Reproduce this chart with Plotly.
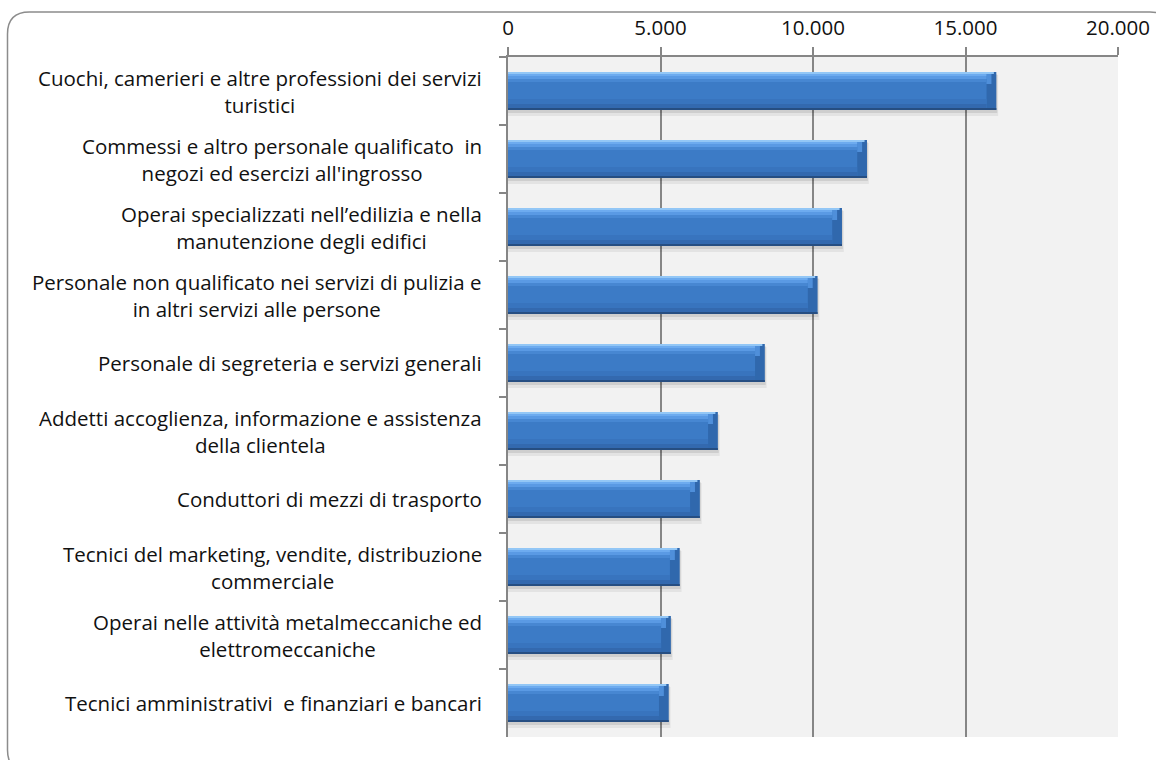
import plotly.graph_objects as go

# Professioni più richieste (numero di assunzioni previste)
categorie = [
    "Cuochi, camerieri e altre professioni dei servizi<br>turistici",
    "Commessi e altro personale qualificato  in<br>negozi ed esercizi all'ingrosso",
    "Operai specializzati nell\u2019edilizia e nella<br>manutenzione degli edifici",
    "Personale non qualificato nei servizi di pulizia e<br>in altri servizi alle persone",
    "Personale di segreteria e servizi generali",
    "Addetti accoglienza, informazione e assistenza<br>della clientela",
    "Conduttori di mezzi di trasporto",
    "Tecnici del marketing, vendite, distribuzione<br>commerciale",
    "Operai nelle attività metalmeccaniche ed<br>elettromeccaniche",
    "Tecnici amministrativi  e finanziari e bancari",
]
valori = [16010, 11770, 10950, 10150, 8420, 6880, 6290, 5630, 5340, 5270]
tick_valori = [0, 5000, 10000, 15000, 20000]

FONT = "Open Sans"
FSIZE = 20.5
W, H = 1156, 760
L, R, T, B = 508, 38, 57, 23
CAT_PX = (H - T - B) / len(categorie)  # pixels per category


def u(px):
    """pixels -> category units"""
    return px / CAT_PX


BEVEL = 320  # length of the bevelled right end, in data units

fig = go.Figure()


def layer(xs, top_px, height_px, color):
    fig.add_trace(go.Bar(
        x=xs, y=categorie, orientation="h",
        width=u(height_px), offset=u(top_px),
        marker=dict(color=color, line=dict(width=0)),
        hoverinfo="skip", showlegend=False,
    ))


# soft drop shadow
layer([v + 60 for v in valori], -16, 41, "rgba(0,0,0,0.06)")
layer([v + 30 for v in valori], -17, 39, "rgba(0,0,0,0.09)")
# bevelled bar body, shaded from a light top edge to a dark bottom edge
inner = [v - BEVEL for v in valori]
layer(valori, -19, 38, "#3068AD")
layer([v - BEVEL * 0.5 for v in valori], -19, 12, "#4F8FDA")
layer(inner, -18, 35, "#3C7BC6")
layer(inner, -18, 3, "#6DABEF")
layer(inner, -15, 3, "#5A9AE4")
layer(inner, -12, 3, "#4787D2")
layer(inner, 8, 5, "#3874BE")
layer(inner, 13, 4, "#3369AF")
layer([v - BEVEL * 0.25 for v in valori], -19, 1.5, "#93C7F6")
layer(valori, 17, 2, "#264E82")

# category labels, right-aligned to the axis with centred lines
annotations = [
    dict(x=0, xref="paper", xanchor="right", xshift=-24,
         y=c, yref="y", yanchor="middle",
         text=c, showarrow=False, align="center",
         font=dict(family=FONT, size=FSIZE, color="#111111"))
    for c in categorie
]


def to_paper(px, py):
    return (px - L) / (W - L - R), (H - B - py) / (H - T - B)


# rounded frame around the chart
x0, y0, x1, y1, rad = 7.5, 12, 1172, 772, 22
pts = [
    ("M", x0 + rad, y0), ("L", x1 - rad, y0), ("Q", x1, y0, x1, y0 + rad),
    ("L", x1, y1 - rad), ("Q", x1, y1, x1 - rad, y1),
    ("L", x0 + rad, y1), ("Q", x0, y1, x0, y1 - rad),
    ("L", x0, y0 + rad), ("Q", x0, y0, x0 + rad, y0),
]
path = ""
for p in pts:
    cmd, coords = p[0], p[1:]
    conv = []
    for i in range(0, len(coords), 2):
        a, b = to_paper(coords[i], coords[i + 1])
        conv.append(f"{a:.5f},{b:.5f}")
    path += cmd + " " + " ".join(conv) + " "
path += "Z"

fig.update_layout(
    width=W, height=H,
    margin=dict(l=L, r=R, t=T, b=B, pad=0, autoexpand=False),
    paper_bgcolor="white",
    plot_bgcolor="#F2F2F2",
    barmode="overlay",
    separators=",.",
    font=dict(family=FONT, size=FSIZE, color="#111111"),
    annotations=annotations,
    shapes=[dict(type="path", path=path, xref="paper", yref="paper",
                 line=dict(color="#8C8C8C", width=1.5), layer="below")],
    xaxis=dict(
        side="top", range=[0, 20000], tickvals=tick_valori, tickformat=",d",
        showgrid=True, gridcolor="#868686", gridwidth=1.6, zeroline=False,
        showline=True, linecolor="#868686", linewidth=1.6,
        ticks="outside", ticklen=8, tickcolor="#868686", tickwidth=1.6,
        ticklabelstandoff=4, automargin=False,
        tickfont=dict(family=FONT, size=FSIZE, color="#111111"),
        fixedrange=True,
    ),
    yaxis=dict(
        type="category", categoryorder="array", categoryarray=categorie,
        autorange="reversed", showticklabels=False, automargin=False,
        showline=True, linecolor="#868686", linewidth=1.6,
        ticks="outside", tickson="boundaries", ticklen=7,
        tickcolor="#868686", tickwidth=1.6, showgrid=False,
        fixedrange=True,
    ),
)

fig.write_html("out.html", config={"displayModeBar": False})
